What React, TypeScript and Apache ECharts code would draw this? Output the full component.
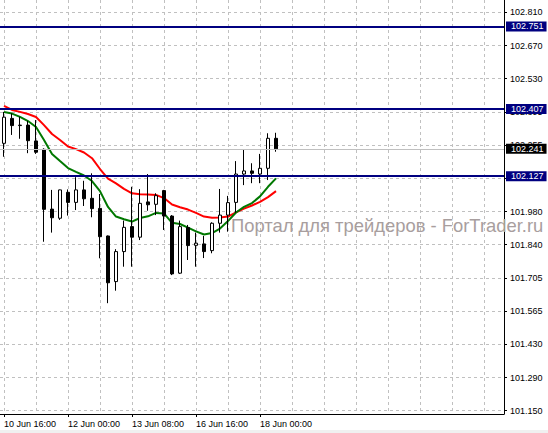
import React, { useEffect, useRef } from "react";
import * as echarts from "echarts";

// H4 bars (time labels)
const barTimes = [
  "10 Jun 16:00", "10 Jun 20:00", "11 Jun 00:00", "11 Jun 04:00", "11 Jun 08:00",
  "11 Jun 12:00", "11 Jun 16:00", "11 Jun 20:00", "12 Jun 00:00", "12 Jun 04:00",
  "12 Jun 08:00", "12 Jun 12:00", "12 Jun 16:00", "12 Jun 20:00", "13 Jun 00:00",
  "13 Jun 04:00", "13 Jun 08:00", "13 Jun 12:00", "13 Jun 16:00", "13 Jun 20:00",
  "16 Jun 00:00", "16 Jun 04:00", "16 Jun 08:00", "16 Jun 12:00", "16 Jun 16:00",
  "16 Jun 20:00", "17 Jun 00:00", "17 Jun 04:00", "17 Jun 08:00", "17 Jun 12:00",
  "17 Jun 16:00", "17 Jun 20:00", "18 Jun 00:00", "18 Jun 04:00", "18 Jun 08:00",
];
const emptySlots = 28; // chart shift area on the right

const opens = [
  102.264, 102.368, 102.338, 102.340, 102.274, 102.239, 101.990, 101.952, 102.060, 102.018,
  102.070, 102.035, 101.993, 101.878, 101.688, 101.813, 101.917, 101.873, 102.020, 102.010,
  102.067, 101.961, 101.723, 101.913, 101.839, 101.845, 101.817, 101.931, 101.965, 102.018,
  102.136, 102.149, 102.136, 102.160, 102.285,
];
const closes = [
  102.373, 102.338, 102.340, 102.275, 102.227, 101.989, 101.954, 102.070, 102.018, 102.070,
  102.033, 101.992, 101.875, 101.683, 101.813, 101.914, 101.873, 102.014, 102.008, 102.046,
  101.961, 101.720, 101.917, 101.838, 101.848, 101.813, 101.931, 101.965, 102.017, 102.136,
  102.149, 102.139, 102.160, 102.285, 102.241,
];
const lows = [
  102.208, 102.299, 102.283, 102.223, 102.220, 101.854, 101.892, 101.945, 101.963, 101.986,
  102.003, 101.956, 101.785, 101.598, 101.650, 101.750, 101.750, 101.861, 101.983, 101.965,
  101.903, 101.715, 101.720, 101.778, 101.750, 101.786, 101.806, 101.892, 101.896, 101.975,
  102.090, 102.098, 102.098, 102.111, 102.229,
];
const highs = [
  102.395, 102.389, 102.375, 102.358, 102.361, 102.243, 102.070, 102.071, 102.072, 102.123,
  102.108, 102.139, 102.053, 101.880, 101.823, 101.942, 102.083, 102.073, 102.136, 102.056,
  102.070, 101.965, 101.942, 101.924, 101.892, 101.878, 101.935, 102.074, 102.045, 102.190,
  102.239, 102.181, 102.220, 102.306, 102.308,
];
const maRed = [
  102.420, 102.403, 102.395, 102.386, 102.374, 102.340, 102.303, 102.278, 102.251, 102.240,
  102.226, 102.202, 102.157, 102.117, 102.097, 102.074, 102.056, 102.052, 102.051, 102.049,
  102.036, 102.009, 101.998, 101.988, 101.974, 101.959, 101.954, 101.955, 101.959, 101.976,
  101.992, 102.005, 102.020, 102.040, 102.065,
];
const maGreen = [
  102.395, 102.388, 102.374, 102.357, 102.332, 102.278, 102.220, 102.190, 102.161, 102.145,
  102.130, 102.107, 102.065, 101.999, 101.959, 101.948, 101.938, 101.953, 101.960, 101.974,
  101.972, 101.933, 101.928, 101.913, 101.897, 101.884, 101.890, 101.909, 101.940, 101.976,
  101.999, 102.015, 102.043, 102.083, 102.118,
];
const yTickLabels = [
  "101.150", "101.290", "101.430", "101.565", "101.705", "101.840", "101.980",
  "102.115", "102.255", "102.395", "102.530", "102.670", "102.810",
];
const levelLines = [102.751, 102.407, 102.127];
const bidPrice = 102.241;
const yMin = 101.13625;
const yMax = 102.86125;
const watermark = "Портал для трейдеров - ForTrader.ru";

const FONT = '"Liberation Sans", Arial, sans-serif';

export default function App() {
  const ref = useRef<HTMLDivElement>(null);
  useEffect(() => {
    if (!ref.current) return;
    const chart = echarts.init(ref.current, undefined, { renderer: "svg" });
    const categories = [...barTimes, ...Array(emptySlots).fill("")];
    const lo = parseFloat(yTickLabels[0]);
    const hi = parseFloat(yTickLabels[yTickLabels.length - 1]);
    const step = (hi - lo) / (yTickLabels.length - 1);
    const tickValues = yTickLabels.map((_, k) => lo + k * step);
    const candleData = opens.map((o, i) => [o, closes[i], lows[i], highs[i]]);
    const labelEvery = (i: number, v: string) => i % 8 === 0 && v !== "";

    const boxLabel = (bg: string, value: number) => ({
      show: true,
      position: "end",
      distance: 2,
      formatter: value.toFixed(3),
      color: "#ffffff",
      backgroundColor: bg,
      fontSize: 9,
      fontFamily: FONT,
      lineHeight: 10,
      padding: [0, 3, 0, 5],
    });

    chart.setOption({
      animation: false,
      backgroundColor: "#ffffff",
      grid: { left: 0, top: 0, width: 504, height: 414, containLabel: false, outerBoundsMode: "none" },
      xAxis: {
        type: "category",
        data: categories,
        boundaryGap: true,
        axisLine: { show: true, lineStyle: { color: "#000000", width: 1 } },
        axisTick: {
          show: true,
          alignWithLabel: true,
          length: 3,
          interval: labelEvery,
          lineStyle: { color: "#000000" },
        },
        axisLabel: {
          interval: labelEvery,
          align: "left",
          margin: 5,
          fontSize: 9,
          fontFamily: FONT,
          color: "#000000",
        },
        splitLine: {
          show: true,
          alignWithLabel: true,
          interval: (i: number) => i % 4 === 0,
          lineStyle: { color: "#c0c0c0", type: [3, 3], width: 1 },
        },
      },
      yAxis: {
        type: "value",
        position: "right",
        min: yMin,
        max: yMax,
        axisLine: { show: true, lineStyle: { color: "#000000", width: 1 } },
        axisTick: { show: true, length: 3, customValues: tickValues, lineStyle: { color: "#000000" } },
        axisLabel: {
          customValues: tickValues,
          formatter: (v: number) => yTickLabels[Math.round((v - lo) / step)] ?? "",
          margin: 6,
          fontSize: 9,
          fontFamily: FONT,
          color: "#000000",
          align: "left",
        },
        splitLine: { show: true, lineStyle: { color: "#c0c0c0", type: [3, 3], width: 1 } },
      },
      graphic: [
        {
          type: "text",
          left: 231,
          top: 216,
          z: 1,
          silent: true,
          style: { text: watermark, font: `18.4px ${FONT}`, fill: "#a89e9e" },
        },
        {
          type: "rect",
          shape: { x: 0, y: 430, width: 548, height: 3 },
          style: { fill: "#f0f0f0" },
          silent: true,
        },
      ],
      series: [
        {
          type: "line",
          data: maRed,
          symbol: "none",
          lineStyle: { color: "#ff0000", width: 2 },
          z: 3,
          silent: true,
        },
        {
          type: "line",
          data: maGreen,
          symbol: "none",
          lineStyle: { color: "#007800", width: 2 },
          z: 3,
          silent: true,
        },
        {
          type: "candlestick",
          data: candleData,
          barWidth: 4,
          z: 4,
          itemStyle: {
            color: "#ffffff",
            color0: "#000000",
            borderColor: "#000000",
            borderColor0: "#000000",
            borderWidth: 1,
          },
          markLine: {
            silent: true,
            symbol: "none",
            animation: false,
            precision: 3,
            data: [
              ...levelLines.map((v) => ({
                yAxis: v,
                lineStyle: { color: "#000080", width: 2, type: "solid" },
                label: boxLabel("#000080", v),
              })),
              {
                yAxis: bidPrice,
                lineStyle: { color: "#c0c0c0", width: 1, type: "solid" },
                label: boxLabel("#000000", bidPrice),
              },
            ],
          },
        },
      ],
    });
    return () => chart.dispose();
  }, []);
  return (
    <div
      ref={ref}
      style={{ position: "absolute", left: 0, top: 0, width: 548, height: 433, background: "#ffffff" }}
    />
  );
}
